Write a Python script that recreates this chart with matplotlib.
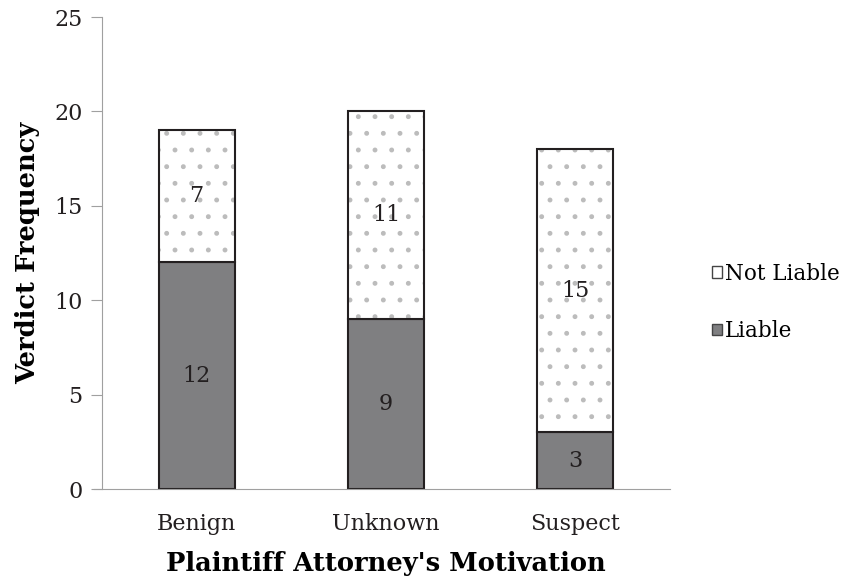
import numpy as np
import matplotlib
matplotlib.use('Agg')
import matplotlib.pyplot as plt
from matplotlib.patches import Patch

categories = ['Benign', 'Unknown', 'Suspect']
liable = [12, 9, 3]
not_liable = [7, 11, 15]

plt.rcParams['font.family'] = ['DejaVu Serif']
plt.rcParams['hatch.linewidth'] = 1.1

fig = plt.figure(figsize=(8.52, 5.8), dpi=100)
ax = fig.add_axes([102/852, 1 - 489/580, (670-102)/852, (489-17)/580])

x = np.arange(len(categories))
w = 0.4
b1 = ax.bar(x, liable, w, color='#7f7f81', edgecolor='#231f20', linewidth=1.5, label='Liable')
# dotted fill first (hatch takes the edge colour), then the dark outline on top
ax.bar(x, not_liable, w, bottom=liable, color='white', edgecolor='#bcbcbc',
       linewidth=0, hatch='.')
ax.bar(x, not_liable, w, bottom=liable, fill=False, edgecolor='#231f20', linewidth=1.5)

for i in range(len(categories)):
    ax.text(x[i], liable[i] / 2, str(liable[i]), ha='center', va='center', fontsize=16, color='#231f20')
    ax.text(x[i], liable[i] + not_liable[i] / 2, str(not_liable[i]), ha='center', va='center',
            fontsize=16, color='#231f20')

ax.set_xlim(-0.5, 2.5)
ax.set_ylim(0, 25)
ax.set_yticks([0, 5, 10, 15, 20, 25])
ax.set_xticks(x)
ax.set_xticklabels(categories)
ax.tick_params(axis='y', length=8, color='#a0a0a0', labelsize=16, pad=6, labelcolor='#231f20')
ax.tick_params(axis='x', length=0, labelsize=16, pad=17, labelcolor='#231f20')
for s in ['top', 'right']:
    ax.spines[s].set_visible(False)
ax.spines['left'].set_color('#a0a0a0')
ax.spines['bottom'].set_color('#a0a0a0')
ax.spines['bottom'].set_bounds(-0.5 - 8/189, 2.5)

ax.set_ylabel('Verdict Frequency', fontsize=18.5, fontweight='bold', labelpad=10)
ax.set_xlabel("Plaintiff Attorney's Motivation", fontsize=18.5, fontweight='bold', labelpad=12)

h_not = Patch(facecolor='white', edgecolor='#444444', linewidth=1.0)
h_li = Patch(facecolor='#7f7f81', edgecolor='#444444', linewidth=1.0)
ax.legend([h_not, h_li], ['Not Liable', 'Liable'], loc='center left', bbox_to_anchor=(1.04, 0.395),
          frameon=False, fontsize=15.5, handlelength=0.45, handleheight=0.45, handletextpad=0.15,
          labelspacing=1.65)

fig.savefig('out.png', dpi=100)
